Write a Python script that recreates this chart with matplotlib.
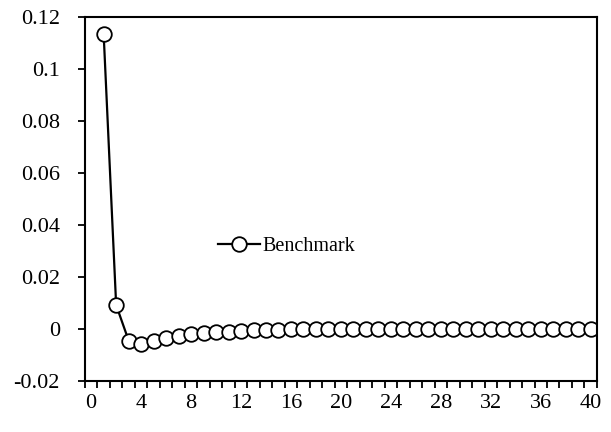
import numpy as np
import matplotlib
matplotlib.use('Agg')
import matplotlib.pyplot as plt

# ---- data ----
periods = list(range(1, 41))
benchmark = [0.1133, 0.0091, -0.0046, -0.0059, -0.0048, -0.0037, -0.0028, -0.0022,
             -0.0018, -0.0014, -0.0012, -0.0009, -0.0006, -0.0005, -0.0004, -0.0003,
             -0.0002, -0.0002, -0.0001, -0.0001, -0.0001, 0.0, 0.0, 0.0,
             0.0, 0.0, 0.0, 0.0, 0.0, 0.0, 0.0, 0.0,
             0.0, 0.0, 0.0, 0.0, 0.0, 0.0, 0.0, 0.0]
x_labels = list(range(0, 41, 4))
y_ticks = [-0.02, 0, 0.02, 0.04, 0.06, 0.08, 0.1, 0.12]

plt.rcParams['font.family'] = ['Liberation Serif', 'DejaVu Serif']
plt.rcParams['font.size'] = 16

fig = plt.figure(figsize=(6.11, 4.32), dpi=100)
ax = fig.add_axes([0.139, 0.119, 0.838, 0.842])

ax.plot(periods, benchmark, color='black', lw=1.6, marker='o', ms=10.5,
        mfc='white', mec='black', mew=1.3, label='Benchmark')

ax.set_xlim(-0.5, 40.5)
ax.set_ylim(-0.02, 0.12)

# category-style axis: minor ticks between categories, labels every 4
ax.set_xticks(x_labels)
ax.set_xticklabels([str(v) for v in x_labels])
ax.set_xticks(np.arange(-0.5, 41, 1), minor=True)
ax.tick_params(axis='x', which='major', length=0, pad=10)
ax.tick_params(axis='x', which='minor', length=5, width=1.3, direction='out')

ax.set_yticks(y_ticks)
ax.set_yticklabels(['-0.02', '0', '0.02', '0.04', '0.06', '0.08', '0.1', '0.12'])
ax.tick_params(axis='y', length=5, width=1.3, direction='out', pad=13)

for s in ax.spines.values():
    s.set_linewidth(1.5)

ax.legend(loc='center left', bbox_to_anchor=(0.26, 0.37), frameon=False,
          borderpad=0, borderaxespad=0, handlelength=2.1, handletextpad=0.1,
          fontsize=14.5)

fig.savefig('out.png', dpi=100)
